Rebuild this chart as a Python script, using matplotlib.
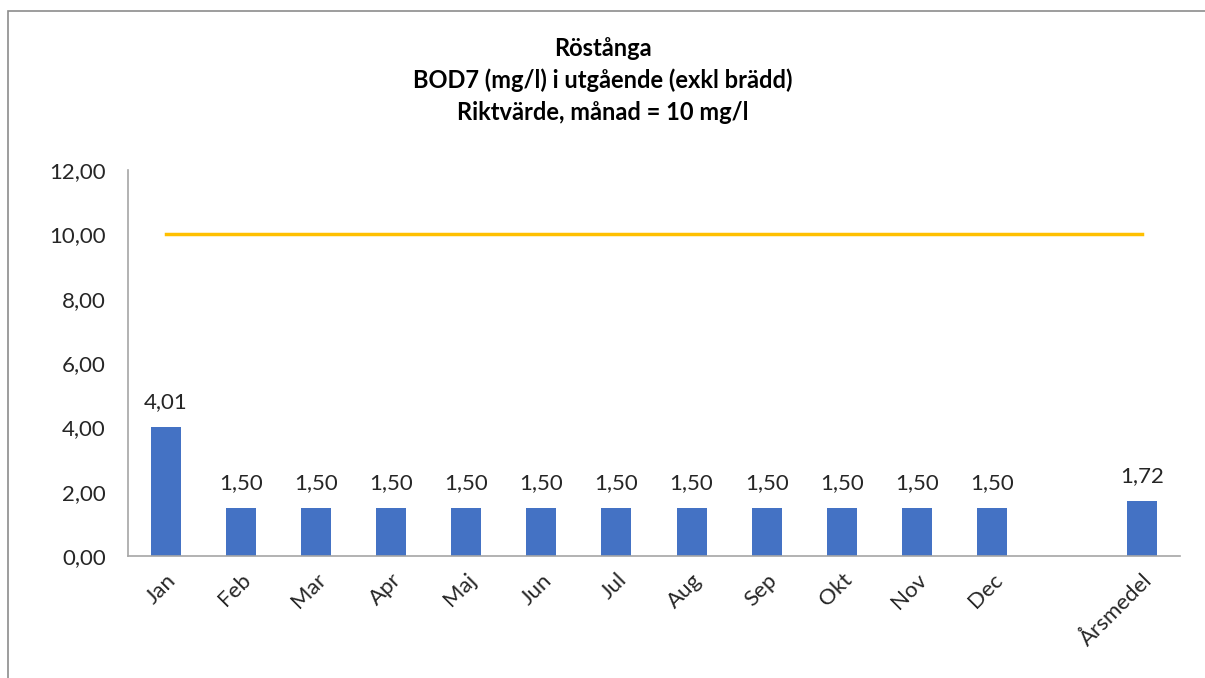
import numpy as np
import matplotlib.pyplot as plt
from matplotlib.patches import Rectangle

plt.rcParams['font.family'] = ['Lato', 'DejaVu Sans']

kategorier = ["Jan", "Feb", "Mar", "Apr", "Maj", "Jun", "Jul", "Aug", "Sep",
              "Okt", "Nov", "Dec", "", "Årsmedel"]
bod7 = [4.01, 1.50, 1.50, 1.50, 1.50, 1.50, 1.50, 1.50, 1.50, 1.50, 1.50, 1.50,
        None, 1.72]
riktvarde = [10] * len(kategorier)

x = np.arange(len(kategorier))
fig = plt.figure(figsize=(12.05, 6.78), dpi=100)
ax = fig.add_axes([128 / 1205, 1 - 556 / 678, (1180 - 128) / 1205, (556 - 170) / 678])

# ram runt diagrammet
fig.patches.append(Rectangle((8 / 1205, -0.1), 1.2, 1 - 11 / 678 + 0.1,
                             transform=fig.transFigure, fill=False,
                             edgecolor='#8c8c8c', linewidth=1.2))

xb = [i for i, v in zip(x, bod7) if v is not None]
vb = [v for v in bod7 if v is not None]
ax.bar(xb, vb, width=0.4, color='#4472c4', zorder=2)
ax.plot(x, riktvarde, color='#ffc000', linewidth=2.5, zorder=3)

for i, v in zip(xb, vb):
    ax.text(i, v + 0.45, f"{v:.2f}".replace('.', ','), ha='center', va='bottom',
            fontsize=16, color='#262626')

ax.set_xlim(-0.5, len(kategorier) - 0.5)
ax.set_ylim(0, 12)
ax.set_yticks(np.arange(0, 13, 2))
ax.set_yticklabels([f"{t:.2f}".replace('.', ',') for t in np.arange(0, 13, 2)],
                   fontsize=16, color='#262626')
ax.set_xticks(x)
ax.set_xticklabels(kategorier, rotation=45, ha='right', rotation_mode='anchor',
                   fontsize=16, color='#262626')
ax.tick_params(axis='both', length=0)
ax.tick_params(axis='y', pad=16)
ax.tick_params(axis='x', pad=10)
for s in ['top', 'right']:
    ax.spines[s].set_visible(False)
for s in ['left', 'bottom']:
    ax.spines[s].set_color('#a6a6a6')
    ax.spines[s].set_linewidth(1.2)

fig.text(0.5, 1 - 48 / 678, "Röstånga", ha='center', va='center',
         fontsize=17, fontweight='bold', color='#000000')
fig.text(0.5, 1 - 80 / 678, "BOD7 (mg/l) i utgående (exkl brädd)", ha='center',
         va='center', fontsize=17, fontweight='bold', color='#000000')
fig.text(0.5, 1 - 112 / 678, "Riktvärde, månad = 10 mg/l", ha='center',
         va='center', fontsize=17, fontweight='bold', color='#000000')

fig.savefig("out.png", dpi=100)
